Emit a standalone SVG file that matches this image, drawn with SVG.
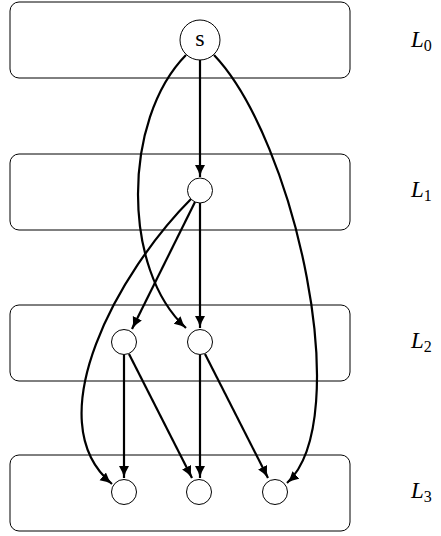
<svg xmlns="http://www.w3.org/2000/svg" width="441" height="536" viewBox="0 0 441 536">
<style>
.box{fill:none;stroke:#000;stroke-width:1}
.node{fill:#fff;stroke:#000;stroke-width:1}
.edge{fill:none;stroke:#000;stroke-width:2.2}
.lbl{font-family:"Liberation Serif","DejaVu Serif",serif;font-style:italic;font-size:23px;fill:#000}
.sub{font-style:normal;font-size:16px}
.nt{font-family:"Liberation Serif","DejaVu Serif",serif;font-size:24px;fill:#000;text-anchor:middle}
</style>
<defs>
<marker id="ah" markerUnits="userSpaceOnUse" markerWidth="14" markerHeight="12" refX="12" refY="5" orient="auto">
<path d="M0,0 Q6,3.8 12,5 Q6,6.2 0,10 z" fill="#000"/>
</marker>
</defs>
<g id="layers">
<rect class="box" x="10" y="2" width="340" height="76" rx="9"/>
<rect class="box" x="10" y="154" width="340" height="76" rx="9"/>
<rect class="box" x="10" y="305" width="340" height="76" rx="9"/>
<rect class="box" x="10" y="455" width="340" height="76" rx="9"/>
</g>
<g id="labels">
<text class="lbl" x="411" y="47">L<tspan class="sub" dy="4">0</tspan></text>
<text class="lbl" x="411" y="197">L<tspan class="sub" dy="4">1</tspan></text>
<text class="lbl" x="411" y="348">L<tspan class="sub" dy="4">2</tspan></text>
<text class="lbl" x="411" y="498">L<tspan class="sub" dy="4">3</tspan></text>
</g>
<g id="connectors">
<path class="edge" marker-end="url(#ah)" d="M200,60 L200,177"/>
<path class="edge" marker-end="url(#ah)" d="M186,55 C122,120 122,270 186,328"/>
<path class="edge" marker-end="url(#ah)" d="M214,55 C295,140 356,420 287,483"/>
<path class="edge" marker-end="url(#ah)" d="M191,199 C120,270 35,420 112,484"/>
<path class="edge" marker-end="url(#ah)" d="M195,202 L132,329"/>
<path class="edge" marker-end="url(#ah)" d="M200,203 L200,328"/>
<path class="edge" marker-end="url(#ah)" d="M124,355 L124,478"/>
<path class="edge" marker-end="url(#ah)" d="M129,354 L192,478"/>
<path class="edge" marker-end="url(#ah)" d="M200,355 L200,478"/>
<path class="edge" marker-end="url(#ah)" d="M205,354 L268,478"/>
</g>
<g id="n_s"><circle class="node" cx="200" cy="40" r="20"/><text class="nt" x="200" y="46">s</text></g>
<g id="n_l1"><circle class="node" cx="200" cy="190.5" r="12.5"/></g>
<g id="n_l2a"><circle class="node" cx="124" cy="342" r="12.5"/></g>
<g id="n_l2b"><circle class="node" cx="200" cy="342" r="12.5"/></g>
<g id="n_l3a"><circle class="node" cx="124" cy="492" r="12.5"/></g>
<g id="n_l3b"><circle class="node" cx="199" cy="492" r="12.5"/></g>
<g id="n_l3c"><circle class="node" cx="275" cy="492" r="12.5"/></g>
</svg>
